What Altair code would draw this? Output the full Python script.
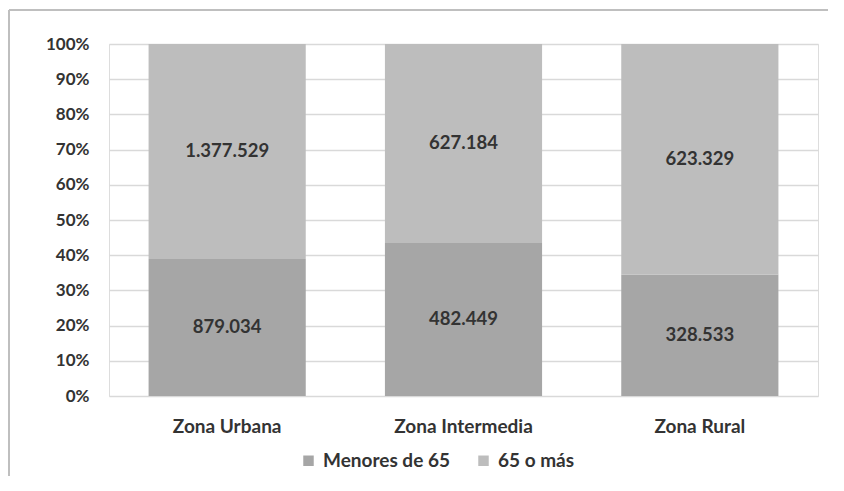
import altair as alt
import pandas as pd

zonas = ["Zona Urbana", "Zona Intermedia", "Zona Rural"]
grupos = ["Menores de 65", "65 o más"]
menores = [879034, 482449, 328533]
mayores = [1377529, 627184, 623329]
ticks_y = [0, 0.1, 0.2, 0.3, 0.4, 0.5, 0.6, 0.7, 0.8, 0.9, 1.0]

rows = []
for i, z in enumerate(zonas):
    rows.append({"zona": z, "grupo": grupos[0], "orden": 0, "valor": menores[i]})
    rows.append({"zona": z, "grupo": grupos[1], "orden": 1, "valor": mayores[i]})
df = pd.DataFrame(rows)

FONT = "Lato"
TXT = "#333333"

base = alt.Chart(df).transform_joinaggregate(
    total="sum(valor)", groupby=["zona"]
).transform_calculate(
    pct="datum.valor / datum.total"
).transform_stack(
    stack="pct", groupby=["zona"], sort=[alt.SortField("orden", order="ascending")],
    as_=["y0", "y1"]
).transform_calculate(
    mid="(datum.y0 + datum.y1) / 2",
    etiqueta="replace(format(datum.valor, ','), /,/g, '.')"
)

yscale = alt.Scale(domain=[0, 1], nice=False)
xscale = alt.Scale(paddingInner=0.335, paddingOuter=0.1675)

xaxis = alt.Axis(labelAngle=0, ticks=False, domain=False, labelPadding=21,
                 labelFont=FONT, labelFontSize=19, labelFontWeight="bold",
                 labelColor=TXT)
yaxis = alt.Axis(format=".0%", values=ticks_y, tickCount=11,
                 labelOverlap=False,
                 ticks=False, domain=False, labelPadding=20,
                 grid=True, gridColor="#d9d9d9", gridWidth=1.5,
                 labelFont=FONT, labelFontSize=17, labelFontWeight="bold",
                 labelColor=TXT)

bars = base.mark_bar().encode(
    x=alt.X("zona:N", sort=zonas, title=None, scale=xscale, axis=xaxis),
    y=alt.Y("y0:Q", title=None, scale=yscale, axis=yaxis),
    y2="y1:Q",
    color=alt.Color("grupo:N", sort=grupos,
                    scale=alt.Scale(domain=grupos, range=["#a6a6a6", "#bdbdbd"]),
                    legend=alt.Legend(title=None, orient="none", direction="horizontal",
                                      legendX=190, legendY=407,
                                      symbolType="square", symbolSize=110,
                                      symbolStrokeWidth=0, labelOffset=5,
                                      columnPadding=24,
                                      labelFont=FONT, labelFontSize=19,
                                      labelFontWeight="bold", labelColor=TXT)),
)

texts = base.mark_text(font=FONT, fontSize=18.5, fontWeight="bold", color=TXT,
                       baseline="middle").encode(
    x=alt.X("zona:N", sort=zonas, title=None, scale=xscale, axis=xaxis),
    y=alt.Y("mid:Q", title=None, scale=yscale, axis=yaxis),
    text="etiqueta:N",
)

frame_top = alt.Chart(df).mark_rule(stroke="#bfbfbf", strokeWidth=2).encode(
    x=alt.value(-100), x2=alt.value(900), y=alt.value(-34)
)
frame_left = alt.Chart(df).mark_rule(stroke="#bfbfbf", strokeWidth=2).encode(
    x=alt.value(-100), y=alt.value(-34), y2=alt.value(500)
)

chart = alt.layer(frame_top, frame_left, bars, texts).properties(
    width=709, height=352,
    autosize=alt.AutoSizeParams(type="none"),
    padding={"left": 101, "top": 36, "right": 10, "bottom": 80},
).configure_view(strokeWidth=0, stroke="transparent").configure(background="white")

chart.save("out.html", embed_options={"renderer": "svg", "actions": False})
